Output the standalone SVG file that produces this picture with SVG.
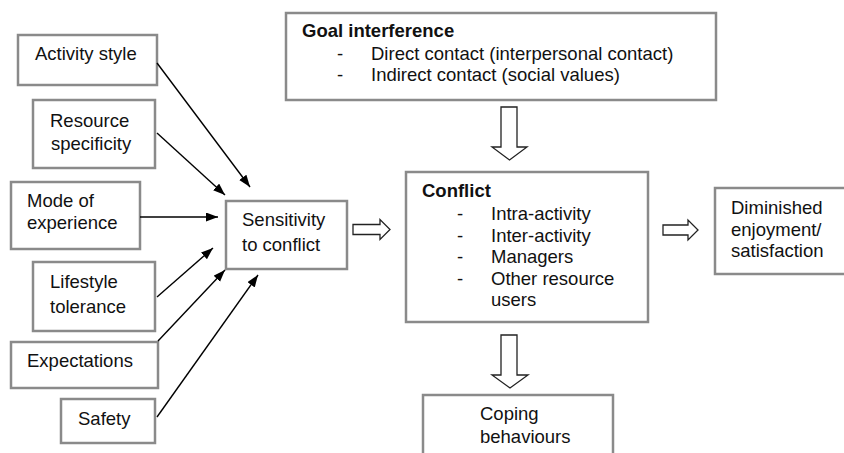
<svg xmlns="http://www.w3.org/2000/svg" width="844" height="453" viewBox="0 0 844 453">
<style>
.box{fill:#fff;stroke:#8a8a8a;stroke-width:2.5}
text{font-family:"Liberation Sans",Arial,sans-serif;font-size:18.5px;fill:#111}
.b{font-weight:bold}
.ln{stroke:#000;stroke-width:1.4;fill:none;marker-end:url(#ah)}
.blk{fill:#fff;stroke:#222;stroke-width:1.3;stroke-linejoin:miter}
</style>
<defs>
<marker id="ah" markerUnits="userSpaceOnUse" markerWidth="13" markerHeight="10" refX="12" refY="4.5" orient="auto">
<path d="M0,0 L12,4.5 L0,9 z" fill="#000"/>
</marker>
</defs>
<rect width="844" height="453" fill="#fff"/>
<g id="activity-style"><rect class="box" x="18" y="35" width="139" height="50"/><text x="35" y="60">Activity style</text></g>
<g id="resource-specificity"><rect class="box" x="33" y="100" width="122" height="68"/><text x="50" y="127">Resource</text><text x="51" y="150">specificity</text></g>
<g id="mode-of-experience"><rect class="box" x="11" y="182" width="129" height="67"/><text x="27" y="207">Mode of</text><text x="27" y="229">experience</text></g>
<g id="lifestyle-tolerance"><rect class="box" x="33" y="262" width="122" height="69"/><text x="50" y="288">Lifestyle</text><text x="50" y="313">tolerance</text></g>
<g id="expectations"><rect class="box" x="11" y="342" width="147" height="46"/><text x="27" y="367">Expectations</text></g>
<g id="safety"><rect class="box" x="61" y="399" width="94" height="44"/><text x="78" y="425">Safety</text></g>
<g id="sensitivity"><rect class="box" x="226" y="201" width="121" height="68"/><text x="242" y="226">Sensitivity</text><text x="242" y="251">to conflict</text></g>
<g id="goal-interference"><rect class="box" x="286" y="13" width="430" height="87"/><text class="b" x="302" y="37">Goal interference</text><text x="337" y="60">-</text><text x="371" y="60">Direct contact (interpersonal contact)</text><text x="337" y="81">-</text><text x="371" y="81">Indirect contact (social values)</text></g>
<g id="conflict"><rect class="box" x="406" y="172" width="242" height="150"/><text class="b" x="422" y="197">Conflict</text><text x="457" y="220">-</text><text x="491" y="220">Intra-activity</text><text x="457" y="242">-</text><text x="491" y="242">Inter-activity</text><text x="457" y="263">-</text><text x="491" y="263">Managers</text><text x="457" y="285">-</text><text x="491" y="285">Other resource</text><text x="491" y="306">users</text></g>
<g id="diminished"><rect class="box" x="715" y="188" width="140" height="86"/><text x="731" y="214">Diminished</text><text x="731" y="236">enjoyment/</text><text x="731" y="257">satisfaction</text></g>
<g id="coping"><rect class="box" x="423" y="395" width="190" height="70"/><text x="480" y="420">Coping</text><text x="480" y="443">behaviours</text></g>
<g id="connectors">
<line class="ln" x1="157" y1="63" x2="250" y2="187"/>
<line class="ln" x1="157" y1="133" x2="225" y2="195"/>
<line class="ln" x1="140" y1="217" x2="218" y2="217"/>
<line class="ln" x1="157" y1="297" x2="213" y2="248"/>
<line class="ln" x1="158" y1="341" x2="225" y2="270"/>
<line class="ln" x1="157" y1="417" x2="258" y2="275"/>
<polygon class="blk" points="353,224.5 380,224.5 380,219.5 390,229.5 380,239.5 380,234.5 353,234.5"/>
<polygon class="blk" points="663,225 688,225 688,220 698,230 688,240 688,235 663,235"/>
<polygon class="blk" points="501,107 517,107 517,147 527,147 509.5,160 492,147 501,147"/>
<polygon class="blk" points="501,335 517,335 517,375 528,375 510,388 492,375 501,375"/>
</g>
</svg>
